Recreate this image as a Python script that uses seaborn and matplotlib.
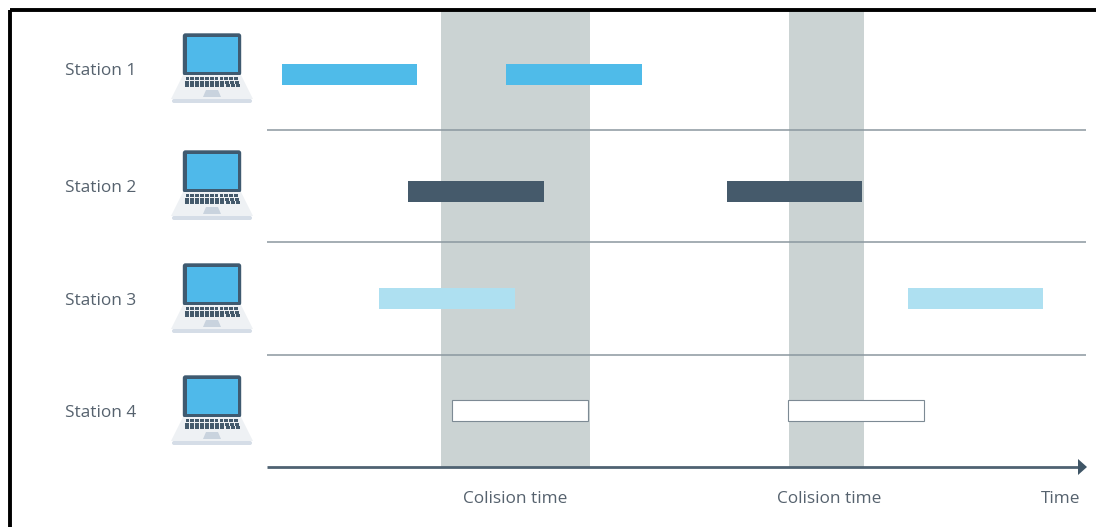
import matplotlib
matplotlib.use('Agg')
import matplotlib.pyplot as plt
import seaborn as sns
from matplotlib.patches import FancyBboxPatch, Polygon, Rectangle

# stations and their transmissions (time axis is in picture pixels)
stations = ['Station 1', 'Station 2', 'Station 3', 'Station 4']
row_centers = [74.5, 191.5, 298.5, 410.5]
label_y = [71, 188, 301, 413]
laptop_top = [33, 150, 263, 375]
burst_station = [0, 0, 1, 1, 2, 2, 3, 3]
burst_start = [282, 506, 408, 727, 379, 908, 452, 788]
burst_length = [135, 136, 136, 135, 136, 135, 136, 136]
station_colors = ['#4fbbe9', '#455a6b', '#aee0f1', '#ffffff']
station_edges = ['#4fbbe9', '#455a6b', '#aee0f1', '#7d8a94']
edge_widths = [0, 0, 0, 0.8]
collision_start = [441, 789]
collision_end = [590, 864]
collision_labels = ['Colision time', 'Colision time']
collision_label_x = [515, 829]
separators = [129.5, 242, 354.5]

TEXT = '#56626e'
BAR_H = 21

sns.set_theme(style='white')
plt.rcParams['font.family'] = ['Open Sans', 'DejaVu Sans']

fig = plt.figure(figsize=(10.96, 5.27), dpi=100)
ax = fig.add_axes([0, 0, 1, 1])

# collision bands
for a, b in zip(collision_start, collision_end):
    ax.add_patch(Rectangle((a, 11), b - a, 456, color='#cbd3d3', lw=0, zorder=1))

# separators and time axis
ax.hlines(separators, 267, 1086, color='#8b979f', lw=1.1, zorder=1.5)
ax.hlines(467, 267, 1080, color='#4f6272', lw=2, zorder=3)
ax.add_patch(Polygon([(1078, 459), (1087, 467), (1078, 475)], color='#3f5566', lw=0, zorder=3))

# transmissions
for st, start, length in zip(burst_station, burst_start, burst_length):
    sns.barplot(x=[length], y=[row_centers[st]], left=start, orient='y', native_scale=True,
                width=BAR_H, color=station_colors[st], saturation=1,
                edgecolor=station_edges[st], linewidth=edge_widths[st], ax=ax, zorder=2)


def draw_laptop(top):
    d = top - 33
    ax.add_patch(FancyBboxPatch((183.5, 34 + d), 57, 41, boxstyle='round,pad=0,rounding_size=2',
                                fc='#3f5a70', ec='#3f5a70', lw=1, zorder=4))
    ax.add_patch(Rectangle((186.5, 36.5 + d), 51.5, 35.5, fc='#4fb9ea', lw=0, zorder=5))
    ax.add_patch(Polygon([(183, 75 + d), (241, 75 + d), (253, 99 + d), (171, 99 + d)],
                         fc='#eef1f4', lw=0, zorder=4))
    ax.add_patch(FancyBboxPatch((172, 99 + d), 80, 4, boxstyle='round,pad=0,rounding_size=2',
                                fc='#d5dde7', ec='none', zorder=4))
    ax.add_patch(Polygon([(206, 90 + d), (218, 90 + d), (221, 97 + d), (203, 97 + d)],
                         fc='#c9d3de', lw=0, zorder=5))
    # keyboard keys
    for y, x0, x1 in [(77.3, 185.5, 239), (80.7, 185, 240), (84.1, 184.5, 241)]:
        n = 11
        w = (x1 - x0) / n
        for i in range(n):
            ax.add_patch(Rectangle((x0 + i * w, y + d), w * 0.78, 2.9, fc='#445a6c', lw=0, zorder=5))


for name, y, top in zip(stations, label_y, laptop_top):
    ax.text(65, y, name, color=TEXT, fontsize=12.4, va='center', ha='left', zorder=6)
    draw_laptop(top)

for x, lab in zip(collision_label_x, collision_labels):
    ax.text(x, 499, lab, color=TEXT, fontsize=12.4, va='center', ha='center', zorder=6)
ax.text(1080, 499, 'Time', color=TEXT, fontsize=12.4, va='center', ha='right', zorder=6)

# black frame of the screenshot
ax.add_patch(Rectangle((10, 9.7), 1200, 800, fill=False, ec='black', lw=2.8, zorder=7))

ax.set_xlim(0, 1096)
ax.set_ylim(527, 0)
ax.set_xlabel('')
ax.set_ylabel('')
ax.axis('off')

fig.savefig('out.png', dpi=100, facecolor='white')
